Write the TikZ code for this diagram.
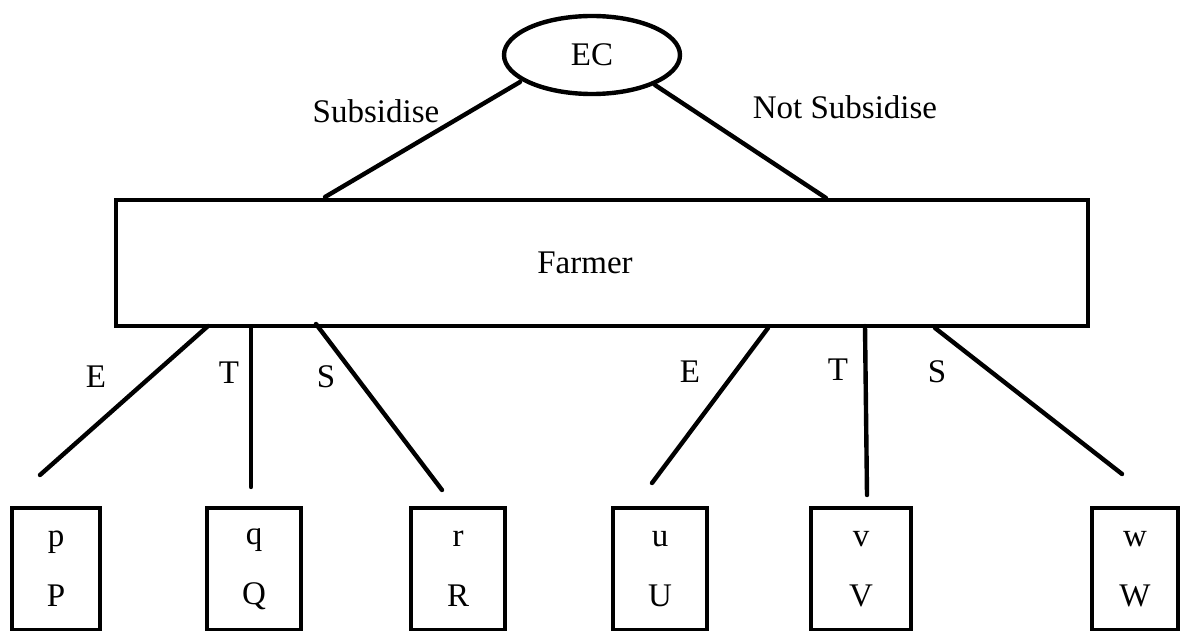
\documentclass[tikz,border=0pt]{standalone}
\usepackage{fontspec}
\setmainfont{Liberation Serif}
\usetikzlibrary{shapes.geometric}

\begin{document}
\begin{tikzpicture}
[x=0.5pt,y=-0.5pt,
  lineDecorate/.style={line width=2.2pt,line cap=round},%
  ecDecorate/.style={shape=ellipse,draw,line width=2.2pt,minimum width=88pt,minimum height=39pt,inner sep=0pt},%
  farmerDecorate/.style={shape=rectangle,draw,line width=2.2pt,minimum width=486pt,minimum height=63pt},%
  leafDecorate/.style={shape=rectangle,draw,line width=2.2pt,minimum height=61pt,inner sep=0pt,align=center},%
  labelDecorate/.style={inner sep=0pt},
  font=\fontsize{16.5}{20}\selectfont]
\useasboundingbox (0,0) rectangle (1182,631);
%% nodes or vertices
\node (ec) at (592,55) [ecDecorate] {EC};
\node (farmer) at (602,263) [farmerDecorate] {Farmer\hspace*{17pt}};
\foreach \nodename/\lo/\up/\x/\w in {p/p/P/56/44, q/q/Q/254/47, r/r/R/458/47,
  u/u/U/660/47, v/v/V/861/50, w/w/W/1135/43}
{
  \node (\nodename) at (\x,569) [leafDecorate,minimum width=\w pt] {\lo\\[10pt]\up};
}
%% end points of the lines
\foreach \nodename/\x/\y in {ecL/520/82, ecR/655/85, subL/325/197, subR/826/198,
  e1/208/326, t1/251/327, s1/316/324, e2/768/328, t2/865/326, s2/935/328,
  pe/40/475, qt/251/487, rs/442/490, ue/652/483, vt/867/495, ws/1122/474}
{
  \coordinate (\nodename) at (\x,\y);
}
%% edges or lines
\foreach \startnode/\endnode in {ecL/subL, ecR/subR, e1/pe, t1/qt, s1/rs, e2/ue, t2/vt, s2/ws}
{
  \draw[lineDecorate] (\startnode) -- (\endnode);
}
%% labels
\foreach \labelname/\txt/\x/\y in {lSub/Subsidise/376/111, lNot/Not Subsidise/845/107,
  lE1/E/96/377, lT1/T/229/373, lS1/S/326/377, lE2/E/690/372, lT2/T/838/370, lS2/S/937/372}
{
  \node (\labelname) at (\x,\y) [labelDecorate] {\txt};
}
\end{tikzpicture}
\end{document}
